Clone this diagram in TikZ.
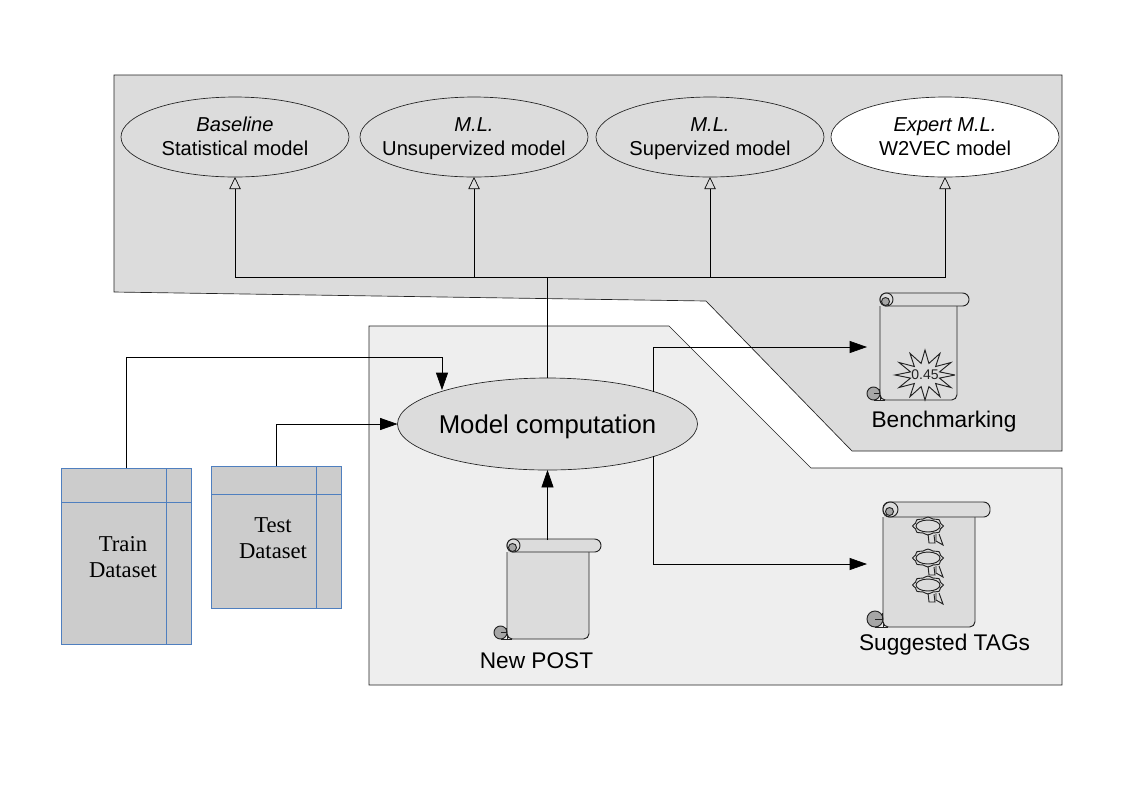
\documentclass[tikz,border=0pt]{standalone}
\usepackage{fontspec}
\setmainfont{Liberation Sans}
\newfontfamily\serifface{Liberation Serif}
\usetikzlibrary{arrows.meta,positioning,shapes.geometric}
\definecolor{panel}{HTML}{DCDCDC}
\definecolor{panellight}{HTML}{EEEEEE}
\definecolor{tablegray}{HTML}{CCCCCC}
\definecolor{tableblue}{HTML}{4F7FBF}
\definecolor{curlgray}{HTML}{A6A6A6}
\definecolor{ink}{HTML}{222222}
\newcommand{\modeltext}[2]{\makebox[110pt]{\smash{\raisebox{-4.6pt}{\begin{tabular}{@{}c@{}}\textit{#1}\\#2\end{tabular}}}}}
% left, top, roll bottom, body right, roll right, bottom, curl radius, fill
\newcommand{\scrollicon}[8]{
  \draw[scr,fill=#8,rounded corners=4pt] ({#1},{#3}) -- ({#1},{#6}) -- ({#4},{#6}) -- ({#4},{#3});
  \draw[scr] ({#1},{#6-5}) -- ({#1},{#6}) -- ({#1+5},{#6});
  \fill[#8] ({#1+1},{#3-1}) rectangle ({#4-1},{#3+4});
  \draw[scr,fill=#8,rounded corners=4.8pt] ({#1},{#2}) rectangle ({#5},{#3});
  \draw[scr,fill=#8] ({#1+(#3-#2)/2},{(#2+#3)/2}) circle[radius={(#3-#2)/2}];
  \draw[scr,fill=curlgray] ({#1+(#3-#2)/2-1},{(#2+#3)/2+2}) circle[radius=4];
  \draw[scr] ({#1-#7},{#6}) -- ({#1},{#6});
  \draw[scr,fill=curlgray] ({#1-#7},{#6-#7}) circle[radius=#7];
  \draw[scr] ({#1-#7},{#6-#7}) -- ({#1-1},{#6-#7}) -- ({#1-1},{#6-2*#7+2}) -- ({#1},{#6-2*#7+2});
}
% one rosette with its ribbons
\newcommand{\tagseal}[2]{
  \draw[scr,fill=panel] plot[domain=0:16,samples=17,smooth cycle] ({#1+(15.5-2*mod(round(\x),2))*cos(22.5*\x)},{#2+(9-1.5*mod(round(\x),2))*sin(22.5*\x)});
  \draw[scr] (#1,#2) ellipse[x radius=12,y radius=6];
  \draw[scr] ({#1+0},{#2+8}) -- ({#1+1},{#2+17}) -- ({#1+7},{#2+17}) -- ({#1+6},{#2+9});
  \draw[scr] ({#1+8},{#2+8}) -- ({#1+8},{#2+15}) -- ({#1+15},{#2+19}) -- ({#1+11},{#2+8});
}
\begin{document}
\begin{tikzpicture}[x=.75pt,y=-.75pt,
  scr/.style={draw=ink,line width=.7pt},
  model/.style={draw=ink,ellipse,fill=panel,align=center,font=\fontsize{15.1}{18}\selectfont,minimum width=171pt,minimum height=60pt,inner sep=0pt,outer sep=0pt,line width=.5pt},
  lb/.style={font=\fontsize{17}{20}\selectfont,inner sep=0pt},
  tablelb/.style={font=\serifface\fontsize{17}{19.5}\selectfont,align=center,inner sep=0pt},
  tbl/.style={draw=tableblue,fill=tablegray,line width=.6pt,inner sep=0pt,outer sep=0pt},
  rule/.style={draw=tableblue,line width=.6pt},
  ar/.style={-{Triangle[length=13pt,width=9pt]},draw=black,line width=.5pt},
  opn/.style={-{Triangle[open,length=9pt,width=8.5pt]},draw=black,line width=.5pt}]
\useasboundingbox (0,0) rectangle (1123,794);
\fill[white] (0,0) rectangle (1123,794);
\draw[fill=panel,draw=ink,line width=.5pt] (114,75) -- (1062,75) -- (1062,451) -- (852,451) -- (706,301) -- (114,292) -- cycle;
\draw[fill=panellight,draw=ink,line width=.5pt] (369,326) -- (669,326) -- (811,468) -- (1062,468) -- (1062,685) -- (369,685) -- cycle;
\node[model] (baseline) at (235,137) {\modeltext{Baseline}{Statistical model}};
\node[model,right=8.25pt of baseline] (unsup) {\modeltext{M.L.}{Unsupervized model}};
\node[model,right=6pt of unsup] (sup) {\modeltext{M.L.}{Supervized model}};
\node[model,fill=white,right=5.25pt of sup] (w2vec) {\modeltext{Expert M.L.}{W2VEC model}};
\node[draw=ink,ellipse,fill=panel,minimum width=225pt,minimum height=69pt,inner sep=0pt,outer sep=0pt,line width=.5pt,font=\fontsize{19.3}{24}\selectfont] (comp) at (547.5,424) {\makebox[130pt]{\smash{\raisebox{-6.75pt}{Model computation}}}};
\node[tbl,minimum width=97.5pt,minimum height=132pt] (train) at (126,556) {};
\node[tbl,minimum width=97.5pt,minimum height=106.5pt] (test) at (276,537) {};
\draw[rule] (166,468) -- (166,644);
\draw[rule] (61,502) -- (191,502);
\draw[rule] (316,466) -- (316,608);
\draw[rule] (211,494) -- (341,494);
\node[tablelb] (trainlb) at (123,557) {Train\\Dataset};
\node[tablelb] (testlb) at (273,538) {Test\\Dataset};
\scrollicon{880}{293}{306}{957}{969}{400}{6.5}{panel}
\scrollicon{883}{502}{517}{975}{990}{627}{8}{panel}
\scrollicon{507}{539}{552}{589}{601}{639}{6.5}{panel}
\draw[scr,fill=panel] plot[domain=0:24,samples=25] ({925+(30-15*mod(round(\x),2))*cos(15*\x)},{375+(25-13*mod(round(\x),2))*sin(15*\x)});
\node[font=\fontsize{10.5}{12}\selectfont,inner sep=0pt,text=ink] (score) at (925,375) {0.45};
\tagseal{928}{526}
\tagseal{928}{558}
\tagseal{928}{585}
\node[lb] (benchlb) at (944,422) {Benchmarking};
\node[lb] (taglb) at (944.5,645) {Suggested TAGs};
\node[lb] (postlb) at (536.5,661) {New POST};
\coordinate (bus) at (547.5,277);
\coordinate (trainin) at (442,390);
\coordinate (benchin) at (867,347);
\coordinate (tagin) at (867,564);
\coordinate (postout) at (547.5,540);
\coordinate (fork) at (653,392);
\coordinate (forklow) at (653,456);
\draw[line width=.5pt] (comp.north) -- (bus);
\draw[opn] (bus) -| (baseline.south);
\draw[opn] (bus) -| (w2vec.south);
\draw[opn] (bus) -| (unsup.south);
\draw[opn] (bus) -| (sup.south);
\draw[ar] (train.north) |- (442,357) -- (trainin);
\draw[ar] (test.north) |- (comp.west);
\draw[ar] (fork) |- (benchin);
\draw[ar] (forklow) |- (tagin);
\draw[ar] (postout) -- (comp.south);
\end{tikzpicture}
\end{document}
